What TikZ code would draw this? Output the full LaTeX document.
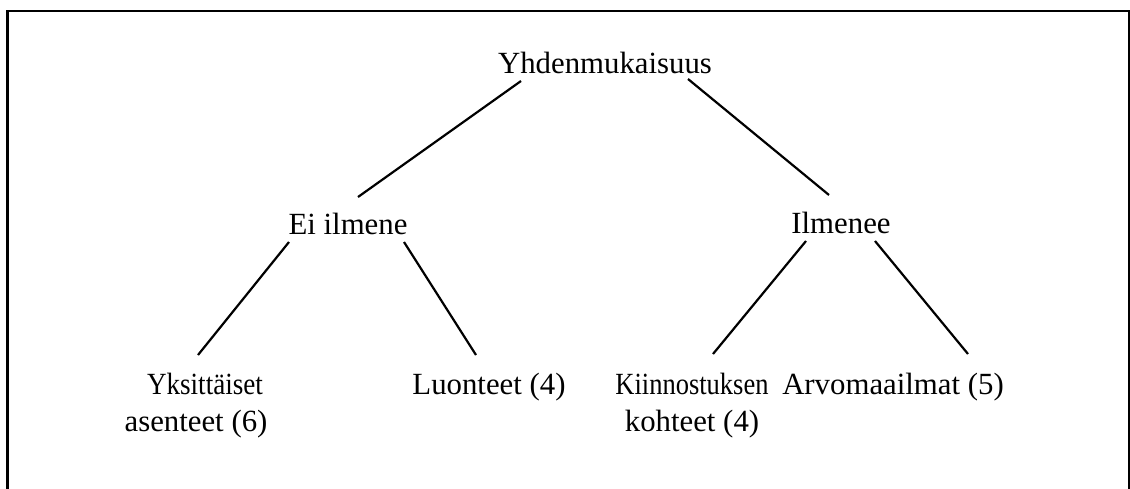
\documentclass[tikz,border=0pt]{standalone}
\usepackage{fontspec}
\setmainfont{Liberation Serif}
\newcommand{\narrow}[2]{\scalebox{#1}[1]{#2}}
\begin{document}
\begin{tikzpicture}[x=0.5pt,y=-0.5pt,
  lbl/.style={inner sep=0pt, anchor=base, align=center,
    font=\fontsize{15.4}{18.5}\selectfont},
  conn/.style={line width=1.1pt},
  frame/.style={line width=1.3pt}]
\useasboundingbox (0,0) rectangle (1130,488);
\clip (0,0) rectangle (1130,488);
\draw[frame] (7.5,600) -- (7.5,11) -- (1129,11) -- (1129,600);

\node[lbl] (top) at (605,73) {Yhdenmukaisuus};
\node[lbl] (ei)  at (348,234) {Ei ilmene};
\node[lbl] (il)  at (841,233) {Ilmenee};
\node[lbl] (yks) at (196,431) {\hspace*{9pt}\narrow{0.88}{Yksittäiset}\\asenteet (6)};
\node[lbl] (luo) at (489,394) {Luonteet (4)};
\node[lbl] (kii) at (692,431) {\narrow{0.86}{Kiinnostuksen}\\kohteet (4)};
\node[lbl] (arv) at (893,394) {Arvomaailmat (5)};

\draw[conn] ([shift={(-84,8)}]top.base) -- ([shift={(10,-37)}]ei.base);
\draw[conn] ([shift={(83,6)}]top.base) -- ([shift={(-12,-38)}]il.base);
\draw[conn] ([shift={(-59,8)}]ei.base) -- ([shift={(2,-76)}]yks.base);
\draw[conn] ([shift={(56,8)}]ei.base) -- ([shift={(-13,-39)}]luo.base);
\draw[conn] ([shift={(-35,8)}]il.base) -- ([shift={(21,-77)}]kii.base);
\draw[conn] ([shift={(34,8)}]il.base) -- ([shift={(75,-40)}]arv.base);
\end{tikzpicture}
\end{document}
